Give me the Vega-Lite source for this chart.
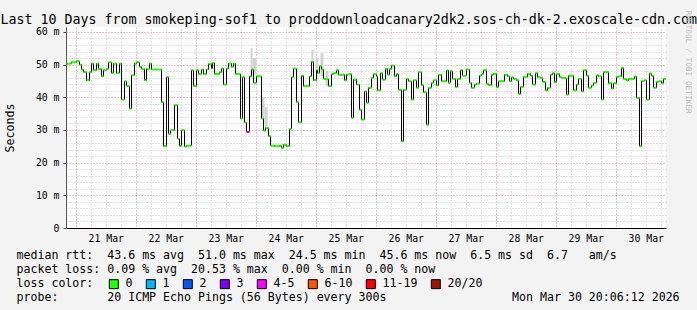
{
  "$schema": "https://vega.github.io/schema/vega-lite/v6.json",
  "width": 600,
  "height": 201,
  "autosize": {"type": "none"},
  "padding": {"left": 66, "top": 27, "right": 31, "bottom": 82},
  "background": "#f3f3f3",
  "config": {"view": {"fill": "#ffffff", "stroke": null}, "font": "DejaVu Sans Mono"},
  "datasets": {
    "median": [
      {"h": 20.3, "v": 50.3, "loss": "0"}, {"h": 22.3, "v": 50.7, "loss": "0"}, {"h": 24.3, "v": 51.0, "loss": "0"},
      {"h": 25.5, "v": 50.0, "loss": "0"}, {"h": 26.3, "v": 48.5, "loss": "0"}, {"h": 27.1, "v": 47.7, "loss": "0"},
      {"h": 28.3, "v": 45.2, "loss": "0"}, {"h": 29.5, "v": 47.7, "loss": "0"}, {"h": 30.3, "v": 50.3, "loss": "0"},
      {"h": 31.1, "v": 48.3, "loss": "0"}, {"h": 32.3, "v": 50.3, "loss": "0"}, {"h": 33.1, "v": 48.7, "loss": "0"},
      {"h": 34.3, "v": 46.4, "loss": "0"}, {"h": 35.1, "v": 48.3, "loss": "0"}, {"h": 36.3, "v": 48.7, "loss": "0"},
      {"h": 37.1, "v": 50.7, "loss": "0"}, {"h": 38.3, "v": 47.4, "loss": "0"}, {"h": 39.1, "v": 50.3, "loss": "0"},
      {"h": 40.3, "v": 47.4, "loss": "0"}, {"h": 41.5, "v": 50.3, "loss": "0"}, {"h": 42.3, "v": 39.3, "loss": "0"},
      {"h": 43.5, "v": 44.9, "loss": "0"}, {"h": 44.3, "v": 43.4, "loss": "0"}, {"h": 45.5, "v": 36.5, "loss": "0"},
      {"h": 46.3, "v": 46.7, "loss": "0"}, {"h": 47.5, "v": 50.3, "loss": "0"}, {"h": 48.3, "v": 50.7, "loss": "0"},
      {"h": 49.5, "v": 49.3, "loss": "0"}, {"h": 50.3, "v": 48.7, "loss": "0"}, {"h": 51.5, "v": 45.2, "loss": "0"},
      {"h": 52.3, "v": 48.7, "loss": "0"}, {"h": 53.5, "v": 50.3, "loss": "0"}, {"h": 54.3, "v": 48.5, "loss": "0"},
      {"h": 58.3, "v": 38.5, "loss": "0"}, {"h": 59.1, "v": 25.0, "loss": "0"}, {"h": 60.3, "v": 46.2, "loss": "0"},
      {"h": 61.1, "v": 28.8, "loss": "0"}, {"h": 61.9, "v": 29.9, "loss": "0"}, {"h": 63.5, "v": 37.6, "loss": "0"},
      {"h": 64.7, "v": 27.3, "loss": "0"}, {"h": 65.5, "v": 25.1, "loss": "0"}, {"h": 66.3, "v": 29.9, "loss": "0"},
      {"h": 67.5, "v": 24.9, "loss": "0"}, {"h": 68.3, "v": 25.2, "loss": "0"}, {"h": 70.3, "v": 48.3, "loss": "0"},
      {"h": 71.1, "v": 43.4, "loss": "0"}, {"h": 72.3, "v": 48.3, "loss": "0"}, {"h": 73.1, "v": 47.1, "loss": "0"},
      {"h": 74.3, "v": 48.5, "loss": "0"}, {"h": 75.1, "v": 47.1, "loss": "0"}, {"h": 76.3, "v": 48.5, "loss": "0"},
      {"h": 77.1, "v": 50.2, "loss": "0"}, {"h": 78.3, "v": 48.8, "loss": "0"}, {"h": 78.7, "v": 50.5, "loss": "0"},
      {"h": 79.5, "v": 47.1, "loss": "0"}, {"h": 81.5, "v": 47.6, "loss": "0"}, {"h": 82.3, "v": 48.8, "loss": "0"},
      {"h": 83.1, "v": 43.9, "loss": "0"}, {"h": 84.3, "v": 48.8, "loss": "0"}, {"h": 85.1, "v": 50.3, "loss": "0"},
      {"h": 86.3, "v": 49.3, "loss": "0"}, {"h": 87.1, "v": 50.3, "loss": "0"}, {"h": 87.9, "v": 47.1, "loss": "0"},
      {"h": 89.9, "v": 33.5, "loss": "0"}, {"h": 90.7, "v": 46.2, "loss": "0"}, {"h": 91.5, "v": 32.3, "loss": "0"},
      {"h": 92.3, "v": 29.4, "loss": "4-5"}, {"h": 93.5, "v": 46.4, "loss": "0"}, {"h": 94.3, "v": 48.5, "loss": "0"},
      {"h": 95.1, "v": 44.4, "loss": "0"}, {"h": 96.3, "v": 46.4, "loss": "0"}, {"h": 98.3, "v": 33.5, "loss": "0"},
      {"h": 99.1, "v": 29.8, "loss": "0"}, {"h": 99.9, "v": 30.6, "loss": "0"}, {"h": 101.1, "v": 28.1, "loss": "0"},
      {"h": 101.9, "v": 25.2, "loss": "0"}, {"h": 103.5, "v": 25.0, "loss": "0"}, {"h": 105.5, "v": 25.2, "loss": "0"},
      {"h": 106.3, "v": 24.5, "loss": "0"}, {"h": 107.1, "v": 25.5, "loss": "0"}, {"h": 108.3, "v": 25.0, "loss": "0"},
      {"h": 109.5, "v": 30.3, "loss": "0"}, {"h": 110.3, "v": 46.2, "loss": "0"}, {"h": 111.1, "v": 48.8, "loss": "0"},
      {"h": 112.3, "v": 38.5, "loss": "0"}, {"h": 113.1, "v": 32.3, "loss": "0"}, {"h": 114.3, "v": 46.6, "loss": "0"},
      {"h": 115.1, "v": 43.4, "loss": "0"}, {"h": 117.5, "v": 46.4, "loss": "0"}, {"h": 118.3, "v": 50.9, "loss": "0"},
      {"h": 119.1, "v": 45.2, "loss": "0"}, {"h": 120.3, "v": 48.3, "loss": "0"}, {"h": 120.7, "v": 47.4, "loss": "0"},
      {"h": 121.5, "v": 49.5, "loss": "0"}, {"h": 122.3, "v": 48.5, "loss": "0"}, {"h": 123.1, "v": 45.6, "loss": "0"},
      {"h": 125.1, "v": 43.4, "loss": "0"}, {"h": 126.3, "v": 47.1, "loss": "0"}, {"h": 127.1, "v": 47.4, "loss": "0"},
      {"h": 128.3, "v": 48.3, "loss": "0"}, {"h": 129.1, "v": 46.9, "loss": "0"}, {"h": 131.5, "v": 45.2, "loss": "0"},
      {"h": 132.3, "v": 46.9, "loss": "0"}, {"h": 133.1, "v": 47.1, "loss": "0"}, {"h": 134.3, "v": 33.7, "loss": "0"},
      {"h": 135.1, "v": 45.4, "loss": "0"}, {"h": 136.3, "v": 43.9, "loss": "0"}, {"h": 137.5, "v": 36.2, "loss": "0"},
      {"h": 138.3, "v": 33.2, "loss": "0"}, {"h": 139.5, "v": 41.8, "loss": "0"}, {"h": 140.3, "v": 38.3, "loss": "0"},
      {"h": 141.1, "v": 42.9, "loss": "0"}, {"h": 142.3, "v": 45.9, "loss": "0"}, {"h": 143.1, "v": 47.1, "loss": "0"},
      {"h": 144.3, "v": 46.4, "loss": "0"}, {"h": 144.7, "v": 42.1, "loss": "0"}, {"h": 145.9, "v": 47.4, "loss": "0"},
      {"h": 146.7, "v": 45.4, "loss": "0"}, {"h": 147.9, "v": 48.7, "loss": "0"}, {"h": 148.7, "v": 46.9, "loss": "0"},
      {"h": 149.5, "v": 48.7, "loss": "0"}, {"h": 150.3, "v": 49.7, "loss": "0"}, {"h": 151.5, "v": 46.4, "loss": "0"},
      {"h": 152.3, "v": 47.1, "loss": "0"}, {"h": 153.1, "v": 42.3, "loss": "0"}, {"h": 154.3, "v": 26.5, "loss": "0"},
      {"h": 155.1, "v": 42.3, "loss": "0"}, {"h": 156.3, "v": 45.6, "loss": "0"}, {"h": 157.1, "v": 44.9, "loss": "0"},
      {"h": 158.3, "v": 39.3, "loss": "0"}, {"h": 159.1, "v": 45.2, "loss": "0"}, {"h": 160.3, "v": 42.9, "loss": "0"},
      {"h": 161.1, "v": 47.7, "loss": "0"}, {"h": 162.3, "v": 43.7, "loss": "0"}, {"h": 163.1, "v": 41.5, "loss": "0"},
      {"h": 164.3, "v": 31.6, "loss": "0"}, {"h": 165.1, "v": 42.9, "loss": "0"}, {"h": 166.3, "v": 44.4, "loss": "0"},
      {"h": 167.1, "v": 45.2, "loss": "0"}, {"h": 168.3, "v": 43.6, "loss": "0"}, {"h": 169.1, "v": 46.9, "loss": "0"},
      {"h": 170.3, "v": 44.9, "loss": "0"}, {"h": 172.3, "v": 48.2, "loss": "0"}, {"h": 173.1, "v": 44.4, "loss": "0"},
      {"h": 173.9, "v": 48.0, "loss": "0"}, {"h": 174.7, "v": 45.6, "loss": "0"}, {"h": 175.9, "v": 43.1, "loss": "0"},
      {"h": 176.7, "v": 45.6, "loss": "0"}, {"h": 177.9, "v": 48.3, "loss": "0"}, {"h": 178.7, "v": 46.6, "loss": "0"},
      {"h": 180.3, "v": 48.5, "loss": "0"}, {"h": 181.5, "v": 44.4, "loss": "0"}, {"h": 182.3, "v": 42.9, "loss": "0"},
      {"h": 183.5, "v": 43.9, "loss": "0"}, {"h": 184.3, "v": 44.2, "loss": "0"}, {"h": 185.5, "v": 46.6, "loss": "0"},
      {"h": 186.3, "v": 47.1, "loss": "0"}, {"h": 187.1, "v": 48.3, "loss": "0"}, {"h": 188.3, "v": 44.1, "loss": "0"},
      {"h": 189.1, "v": 43.7, "loss": "0"}, {"h": 190.3, "v": 46.9, "loss": "0"}, {"h": 191.1, "v": 47.2, "loss": "0"},
      {"h": 192.3, "v": 43.1, "loss": "0"}, {"h": 193.1, "v": 44.9, "loss": "0"}, {"h": 195.5, "v": 46.9, "loss": "0"},
      {"h": 196.7, "v": 46.4, "loss": "0"}, {"h": 197.5, "v": 44.9, "loss": "0"}, {"h": 198.3, "v": 46.1, "loss": "0"},
      {"h": 199.1, "v": 45.6, "loss": "0"}, {"h": 200.3, "v": 45.2, "loss": "0"}, {"h": 201.1, "v": 41.0, "loss": "0"},
      {"h": 201.9, "v": 43.2, "loss": "0"}, {"h": 203.1, "v": 46.2, "loss": "0"}, {"h": 204.7, "v": 47.2, "loss": "0"},
      {"h": 205.9, "v": 46.6, "loss": "0"}, {"h": 206.7, "v": 43.9, "loss": "0"}, {"h": 207.9, "v": 47.4, "loss": "0"},
      {"h": 208.7, "v": 46.1, "loss": "0"}, {"h": 209.9, "v": 45.9, "loss": "0"}, {"h": 210.7, "v": 44.7, "loss": "0"},
      {"h": 211.9, "v": 42.1, "loss": "0"}, {"h": 212.7, "v": 42.9, "loss": "0"}, {"h": 213.9, "v": 46.9, "loss": "0"},
      {"h": 214.7, "v": 47.4, "loss": "0"}, {"h": 215.5, "v": 44.6, "loss": "0"}, {"h": 216.3, "v": 47.1, "loss": "0"},
      {"h": 217.5, "v": 46.2, "loss": "0"}, {"h": 218.3, "v": 45.9, "loss": "0"}, {"h": 220.3, "v": 40.8, "loss": "0"},
      {"h": 221.1, "v": 46.6, "loss": "0"}, {"h": 223.1, "v": 42.1, "loss": "0"}, {"h": 224.3, "v": 43.9, "loss": "0"},
      {"h": 225.1, "v": 45.6, "loss": "0"}, {"h": 226.3, "v": 41.8, "loss": "0"}, {"h": 227.1, "v": 48.3, "loss": "0"},
      {"h": 228.3, "v": 46.6, "loss": "0"}, {"h": 229.1, "v": 42.9, "loss": "0"}, {"h": 230.3, "v": 43.6, "loss": "0"},
      {"h": 231.1, "v": 44.4, "loss": "0"}, {"h": 232.3, "v": 46.7, "loss": "0"}, {"h": 233.1, "v": 46.4, "loss": "0"},
      {"h": 234.3, "v": 39.3, "loss": "0"}, {"h": 235.1, "v": 47.7, "loss": "0"}, {"h": 237.1, "v": 44.3, "loss": "0"},
      {"h": 238.3, "v": 42.7, "loss": "0"}, {"h": 239.1, "v": 44.3, "loss": "0"}, {"h": 240.3, "v": 46.2, "loss": "0"},
      {"h": 241.1, "v": 46.4, "loss": "0"}, {"h": 242.3, "v": 49.0, "loss": "0"}, {"h": 243.1, "v": 45.6, "loss": "0"},
      {"h": 244.3, "v": 45.2, "loss": "0"}, {"h": 245.1, "v": 45.6, "loss": "0"}, {"h": 247.5, "v": 46.4, "loss": "0"},
      {"h": 248.3, "v": 39.8, "loss": "0"}, {"h": 249.5, "v": 25.0, "loss": "0"}, {"h": 250.3, "v": 45.0, "loss": "0"},
      {"h": 251.5, "v": 45.2, "loss": "0"}, {"h": 252.3, "v": 39.3, "loss": "0"}, {"h": 253.5, "v": 47.3, "loss": "0"},
      {"h": 254.3, "v": 46.6, "loss": "0"}, {"h": 255.1, "v": 42.9, "loss": "0"}, {"h": 256.3, "v": 44.7, "loss": "0"},
      {"h": 257.1, "v": 44.9, "loss": "0"}, {"h": 258.3, "v": 44.3, "loss": "0"}, {"h": 259.1, "v": 45.6, "loss": "0"},
      {"h": 260.1, "v": 45.6, "loss": "0"}
    ],
    "smoke": [
      {"h1": 93.9, "h2": 94.7, "lo": 46.0, "hi": 55.0},
      {"h1": 94.7, "h2": 96.3, "lo": 47.0, "hi": 52.0},
      {"h1": 98.3, "h2": 99.5, "lo": 33.0, "hi": 40.0},
      {"h1": 99.5, "h2": 100.7, "lo": 30.0, "hi": 37.0},
      {"h1": 118.3, "h2": 119.1, "lo": 50.5, "hi": 54.6},
      {"h1": 119.9, "h2": 121.1, "lo": 48.0, "hi": 52.0},
      {"h1": 121.9, "h2": 123.1, "lo": 46.5, "hi": 53.5},
      {"h1": 123.9, "h2": 125.1, "lo": 43.5, "hi": 48.0}
    ]
  },
  "layer": [
    {
      "data": {"name": "smoke"},
      "mark": {"type": "rect", "color": "#d2d2d2"},
      "encoding": {
        "x": {"field": "h1", "type": "quantitative",
              "scale": {"domain": [20.1, 260.1], "nice": false, "zero": false},
              "axis": {"orient": "top", "values": [30,36,42,54,60,66,78,84,90,102,108,114,126,132,138,150,156,162,174,180,186,198,204,210,222,228,234,246,252,258],
                       "grid": true, "gridColor": "#cfcfcf", "gridDash": [1, 2], "gridWidth": 1,
                       "labels": false, "ticks": false, "domain": false,
                       "title": "Last 10 Days from smokeping-sof1 to proddownloadcanary2dk2.sos-ch-dk-2.exoscale-cdn.com",
                       "titleX": -66, "titleY": -4, "titleAlign": "left", "titleAnchor": "start", "titleBaseline": "alphabetic",
                       "titleFont": "DejaVu Sans Mono", "titleFontSize": 13.3, "titleFontWeight": "normal", "titleColor": "#000000"}},
        "x2": {"field": "h2"},
        "y": {"field": "lo", "type": "quantitative",
              "scale": {"domain": [0, 61.5], "nice": false, "zero": true},
              "axis": {"orient": "right", "values": [2,4,6,8,12,14,16,18,22,24,26,28,32,34,36,38,42,44,46,48,52,54,56,58],
                       "grid": true, "gridColor": "#cfcfcf", "gridDash": [1, 2], "gridWidth": 1,
                       "labels": false, "ticks": false, "domain": false,
                       "title": "RRDTOOL / TOBI OETIKER", "titleAngle": 90, "titleX": 21.5, "titleY": -17,
                       "titleAlign": "left", "titleBaseline": "middle", "titleColor": "#bdbdbd",
                       "titleFont": "DejaVu Sans Mono", "titleFontSize": 7.8, "titleFontWeight": "normal"}},
        "y2": {"field": "hi"}
      }
    },
    {
      "data": {"name": "median"},
      "mark": {"type": "line", "interpolate": "step-after", "color": "#000000", "strokeWidth": 1},
      "encoding": {
        "x": {"field": "h", "type": "quantitative",
              "axis": {"orient": "bottom", "values": [24,48,72,96,120,144,168,192,216,240],
                       "grid": true, "gridColor": "#e69a9a", "gridDash": [1, 2], "gridWidth": 1,
                       "ticks": false, "domain": true, "domainColor": "#000000", "domainWidth": 1,
                       "labelExpr": "(20 + datum.value / 24) + ' Mar'", "labelOffset": 30, "labelPadding": 5,
                       "labelFlush": false, "labelOverlap": false, "labelFont": "DejaVu Sans Mono", "labelFontSize": 9.8, "labelColor": "#000000",
                       "title": [
                         "median rtt:\u00a0\u00a043.6 ms avg\u00a0\u00a051.0 ms max\u00a0\u00a024.5 ms min\u00a0\u00a045.6 ms now\u00a0\u00a06.5 ms sd\u00a0\u00a06.7\u00a0\u00a0\u00a0am/s",
                         "packet loss:\u00a00.09 % avg\u00a0\u00a020.53 % max\u00a0\u00a00.00 % min\u00a0\u00a00.00 % now",
                         "loss color:",
                         "probe:\u00a0\u00a0\u00a0\u00a0\u00a0\u00a0\u00a020 ICMP Echo Pings (56 Bytes) every 300s\u00a0\u00a0\u00a0\u00a0\u00a0\u00a0\u00a0\u00a0\u00a0\u00a0\u00a0\u00a0\u00a0\u00a0\u00a0\u00a0\u00a0\u00a0Mon Mar 30 20:06:12 2026"
                       ],
                       "titleX": -50, "titleY": 30, "titleAlign": "left", "titleAnchor": "start", "titleBaseline": "alphabetic", "titleAngle": 0,
                       "titleLineHeight": 14.3, "titleFont": "DejaVu Sans Mono", "titleFontSize": 11.6, "titleFontWeight": "normal", "titleColor": "#000000"}},
        "y": {"field": "v", "type": "quantitative",
              "axis": {"orient": "left", "values": [0,10,20,30,40,50,60],
                       "grid": true, "gridColor": "#e69a9a", "gridDash": [1, 2], "gridWidth": 1,
                       "ticks": true, "tickSize": 3, "tickColor": "#444444", "domain": true, "domainColor": "#555555",
                       "labelExpr": "datum.value == 0 ? '0' : datum.value + ' m'", "labelPadding": 4,
                       "labelFont": "DejaVu Sans Mono", "labelFontSize": 9.8, "labelColor": "#000000",
                       "title": "Seconds", "titleX": -56, "titleY": 100.5, "titleAngle": 270, "titleAlign": "center", "titleBaseline": "middle",
                       "titleFont": "DejaVu Sans Mono", "titleFontSize": 11.6, "titleFontWeight": "normal", "titleColor": "#000000"}}
      }
    },
    {
      "data": {"name": "median"},
      "transform": [
        {"window": [{"op": "lead", "field": "h", "as": "h2"}], "sort": [{"field": "h", "order": "ascending"}]},
        {"filter": "datum.h2 != null"}
      ],
      "mark": {"type": "rect", "yOffset": -1, "y2Offset": 1},
      "encoding": {
        "x": {"field": "h", "type": "quantitative", "axis": null},
        "x2": {"field": "h2"},
        "y": {"field": "v", "type": "quantitative", "axis": null},
        "y2": {"field": "v"},
        "fill": {"field": "loss", "type": "nominal",
                 "scale": {"domain": ["0", "1", "2", "3", "4-5", "6-10", "11-19", "20/20"],
                           "range": ["#26ff00", "#00b8ff", "#0059ff", "#7e00ff", "#ff00ff", "#ff5500", "#ff0000", "#a01400"]},
                 "legend": {"orient": "none", "legendX": 42, "legendY": 251, "direction": "horizontal",
                            "title": null,
                            "labelFont": "DejaVu Sans Mono", "labelFontSize": 11.6, "labelColor": "#000000", "labelOffset": 6, "labelLimit": 0,
                            "columnPadding": 11, "symbolType": "square", "symbolSize": 81,
                            "symbolStrokeColor": "#000000", "symbolStrokeWidth": 1, "symbolOpacity": 1}}
      }
    }
  ],
  "resolve": {"axis": {"x": "independent", "y": "independent"}}
}
